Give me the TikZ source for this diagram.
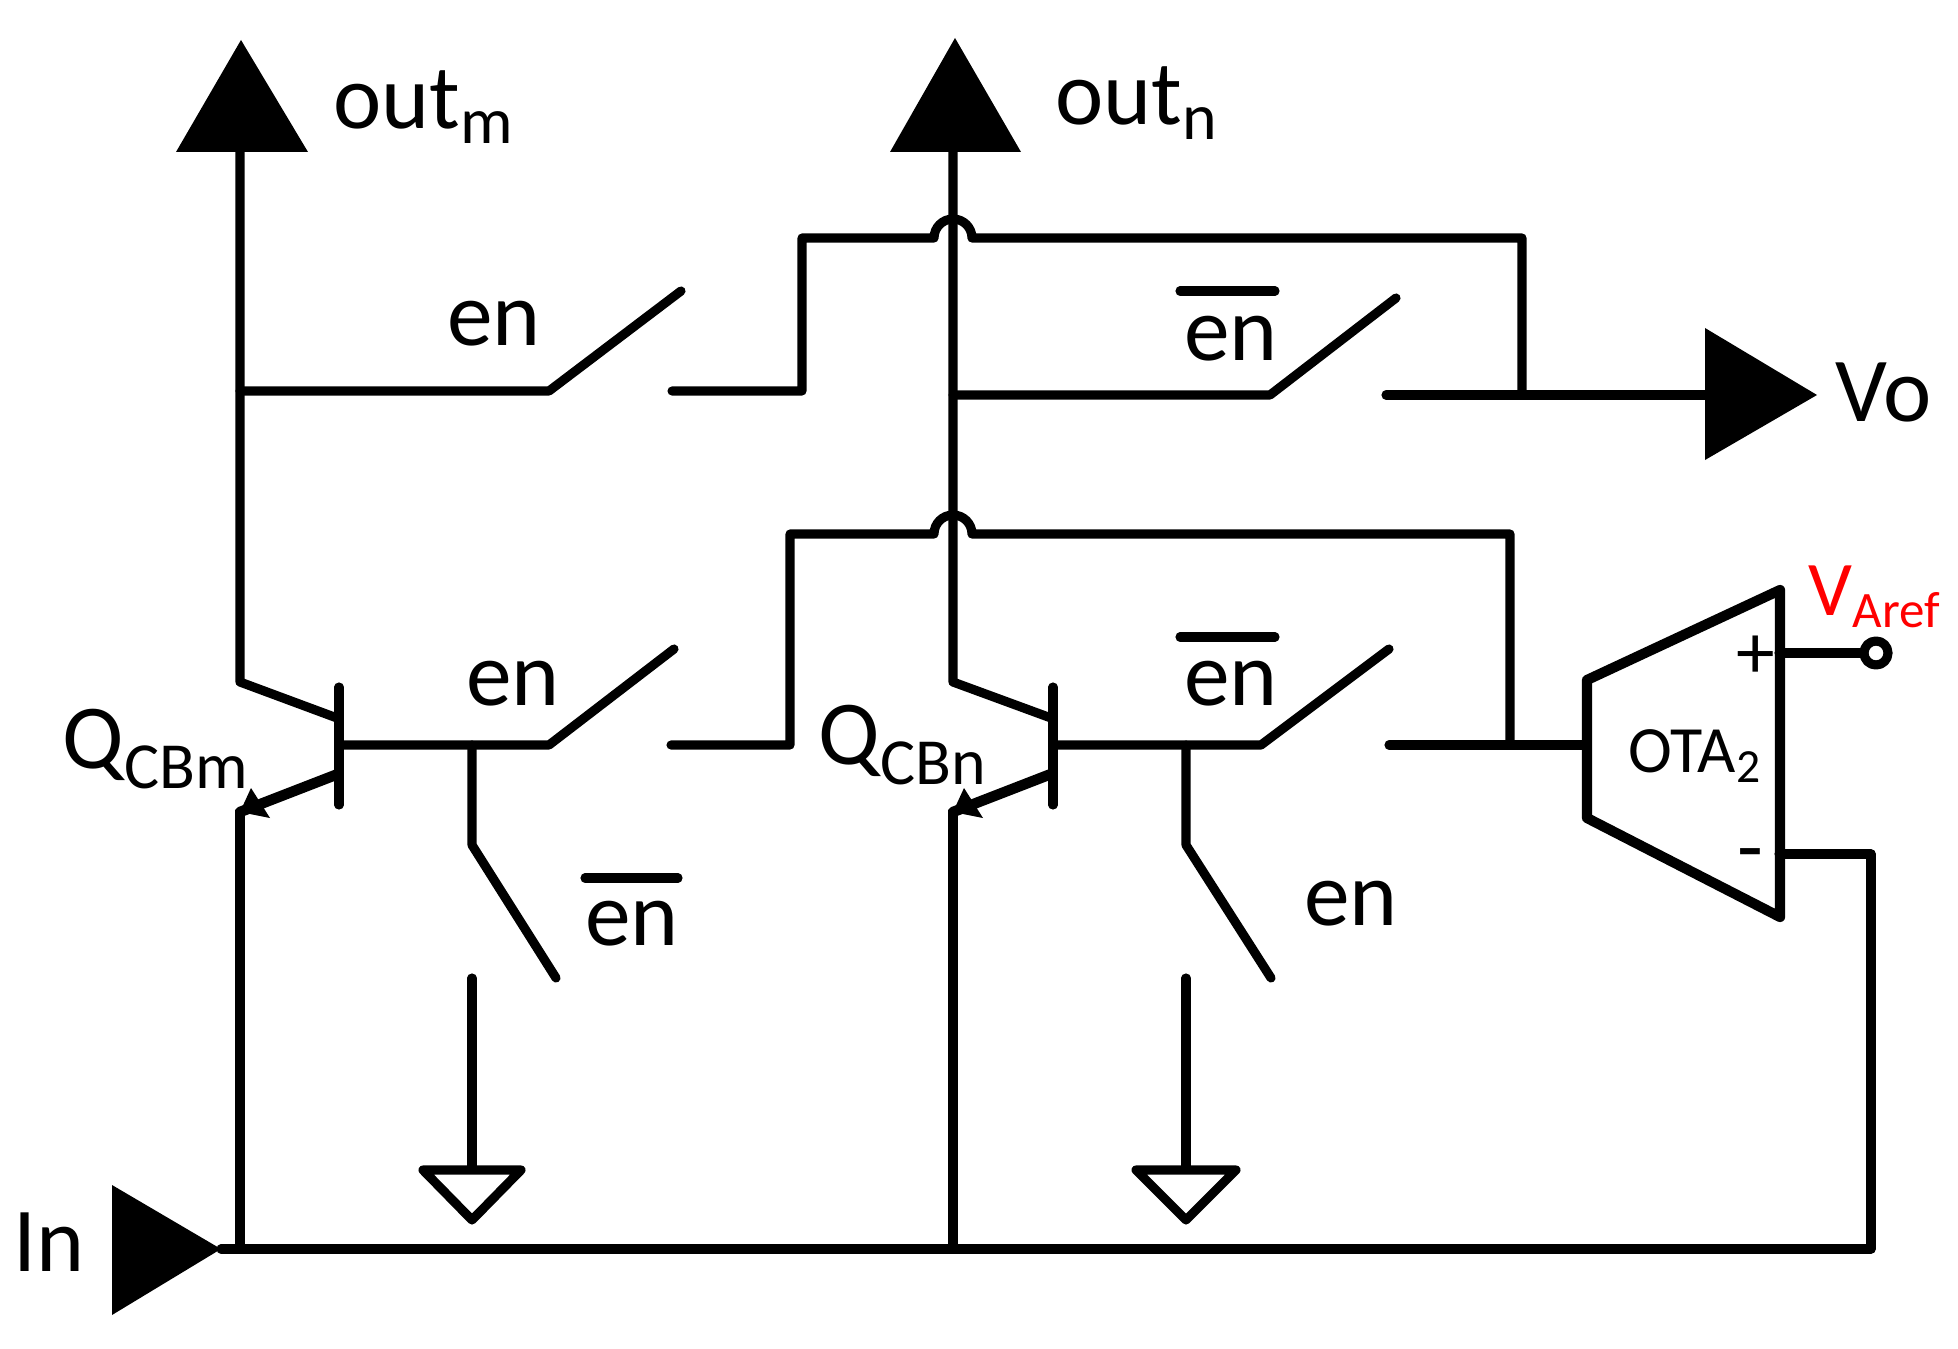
\documentclass[tikz,border=0pt]{standalone}
\usepackage{fontspec}
\setmainfont{Carlito}
\usetikzlibrary{calc}

\newcommand{\sbs}[1]{\raisebox{-0.16em}{\scalebox{0.72}{#1}}}

\tikzset{
    wire/.style={line width=2.6pt, line cap=round, line join=round},
    bar/.style={line width=2.6pt, line cap=round},
    port/.style={fill=black, line join=miter},
    lbl/.style={inner sep=0pt, anchor=base west, font=\fontsize{26}{30}\selectfont},
    swlbl/.style={inner sep=0pt, anchor=base, font=\fontsize{26}{30}\selectfont},
    ota/.style={inner sep=0pt, anchor=base west, font=\fontsize{18.8}{22}\selectfont}
}

\begin{document}
\begin{tikzpicture}[x=0.01cm, y=-0.01cm]
        \useasboundingbox (0,0) rectangle (1958,1349);

        % left transistor and its switches
        \coordinate (Om) at (240, 152);
        \coordinate (Tm) at (240, 391);
        \coordinate (Cm) at (240, 682);
        \coordinate (Em) at (240, 812);
        \coordinate (Im) at (240,1249);
        \coordinate (Bm) at (340, 745);
        \coordinate (Gm) at (472, 745);
        \coordinate (Sm) at (549, 745);

        % right transistor and its switches
        \coordinate (On) at (953, 152);
        \coordinate (Tn) at (953, 395);
        \coordinate (Cn) at (953, 682);
        \coordinate (En) at (953, 812);
        \coordinate (In) at (953,1249);
        \coordinate (Bn) at (1053, 745);
        \coordinate (Gn) at (1186, 745);
        \coordinate (Sn) at (1261, 745);

        \coordinate (Va) at (1522, 238);
        \coordinate (Vb) at (1522, 395);
        \coordinate (Fa) at (1510, 534);
        \coordinate (Fb) at (1510, 745);
        \coordinate (Ap) at (1779, 653);
        \coordinate (Am) at (1779, 854);
        \coordinate (Ai) at (1586, 745);
        \coordinate (Vs) at (221,1249);

        % terminals
        \fill[port] (176,152) -- (241,40) -- (308,152) -- cycle;
        \fill[port] (890,152) -- (955,38) -- (1021,152) -- cycle;
        \fill[port] (1705,328) -- (1817,395) -- (1705,460) -- cycle;
        \fill[port] (112,1185) -- (221,1249) -- (112,1315) -- cycle;

        % collectors, emitters
        \draw[wire] (Om) -- (Cm) -- (337,718);
        \draw[wire] (On) -- (Cn) -- (1051,718);
        \draw[wire] (Im) -- (Em);
        \draw[wire] (In) -- (En);
        \draw[wire, line width=3pt] (338,774) -- (Em);
        \draw[wire, line width=3pt] (1051,774) -- (En);
        \fill[port] (Em) -- (251,788) -- (270,818) -- cycle;
        \fill[port] (En) -- (964,788) -- (983,818) -- cycle;
        \draw[wire] (339,687) -- (339,805);
        \draw[wire] (1053,687) -- (1053,805);

        % top row
        \draw[wire] (Tm) -- (549,391) -- (681,291);
        \draw[wire] (672,391) -- (802,391) -- (802,238) -- (934,238)
            arc[start angle=180, end angle=360, radius=19] -- (Va) -- (Vb);
        \draw[wire] (Tn) -- (1270,395) -- (1396,298);
        \draw[wire] (1386,395) -- (1705,395);

        % base row
        \draw[wire] (Bm) -- (Sm) -- (674,649);
        \draw[wire] (671,745) -- (790,745) -- (790,534) -- (934,534)
            arc[start angle=180, end angle=360, radius=19] -- (Fa) -- (Fb);
        \draw[wire] (Bn) -- (Sn) -- (1389,649);
        \draw[wire] (1389,745) -- (Ai);

        % pull down switches
        \draw[wire] (Gm) -- (472,845) -- (556,978);
        \draw[wire] (472,978) -- (472,1168);
        \draw[wire] (423,1170) -- (521,1170) -- (472,1220) -- cycle;
        \draw[wire] (Gn) -- (1186,845) -- (1271,978);
        \draw[wire] (1186,978) -- (1186,1168);
        \draw[wire] (1136,1170) -- (1236,1170) -- (1186,1220) -- cycle;

        % amplifier
        \draw[wire, line width=2.9pt] (1587,680) -- (1780,590) -- (1780,917) -- (1587,818) -- cycle;
        \draw[wire] (Ap) -- (1863,653);
        \draw[wire] (1876,653) circle (12);
        \draw[wire] (Vs) -- (1871,1249) -- (1871,854) -- (Am);

        % bars over the labels
        \draw[bar] (585,878) -- (678,878);
        \draw[bar] (1180,291) -- (1275,291);
        \draw[bar] (1180,637) -- (1275,637);

        % labels
        \node[lbl] (outm) at (333,129) {out\sbs{m}};
        \node[lbl] (outn) at (1055,125) {out\sbs{n}};
        \node[lbl] (vo) at (1835,422) {Vo};
        \node[lbl] (in) at (13,1271) {In};
        \node[lbl] (qm) at (62,768) {Q\raisebox{-0.06em}{\sbs{CBm}}};
        \node[lbl] (qn) at (818,764) {Q\raisebox{-0.06em}{\sbs{CBn}}};
        \node[lbl, text=red, font=\fontsize{22}{26}\selectfont] (vref) at (1808,615) {V\raisebox{-0.16em}{\scalebox{0.66}{Aref}}};
        \node[ota] (ota) at (1628,772) {OTA\sbs{2}};
        \node[ota, anchor=center, font=\fontsize{22}{26}\selectfont] (plus) at (1756,657) {+};
        \node[ota, anchor=center, font=\fontsize{24}{26}\selectfont] (minus) at (1750,862) {-};

        \node[swlbl] (en1) at (494,346) {en};
        \node[swlbl] (en2) at (513,705) {en};
        \node[swlbl] (en3) at (632,945) {en};
        \node[swlbl] (en4) at (1231,361) {en};
        \node[swlbl] (en5) at (1231,705) {en};
        \node[swlbl] (en6) at (1351,925) {en};
\end{tikzpicture}
\end{document}
